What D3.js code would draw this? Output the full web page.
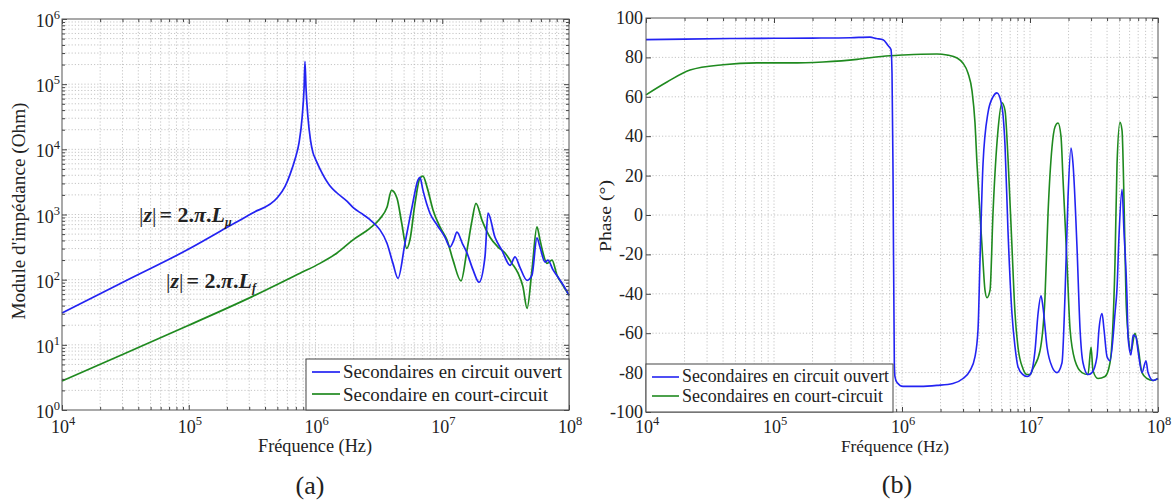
<!DOCTYPE html>
<html><head><meta charset="utf-8">
<script src="https://cdn.jsdelivr.net/npm/d3@7"></script>
<style>
body{margin:0;background:#fff}
svg{display:block}
text{font-family:"Liberation Serif","Times New Roman","DejaVu Serif",serif;fill:#222}
</style>
</head><body>
<svg id="c" width="1176" height="503" font-family="Liberation Serif, serif"></svg>
<script>
// ---------- DATA (frequencies stored as log10(Hz)) ----------
// Panel (a): |Z| in log10(Ohm)
const magOpenLogF = [4.0,4.5,5.0,5.3,5.5,5.7,5.76,5.8,5.84,5.87,5.895,5.91,5.917,5.925,5.94,5.96,5.98,6.0,6.035,6.11,6.17,6.25,6.3,6.375,6.43,6.485,6.51,6.564,6.611,6.651,6.706,6.761,6.809,6.824,6.848,6.903,6.959,7.022,7.061,7.09,7.116,7.16,7.195,7.243,7.29,7.337,7.361,7.416,7.471,7.535,7.574,7.613,7.669,7.708,7.747,7.771,7.811,7.834,7.874,7.913,7.96,8.0];
const magOpenLogZ = [1.49,1.98,2.47,2.80,3.02,3.26,3.43,3.62,3.86,4.10,4.5,4.95,5.35,4.95,4.5,4.15,3.95,3.85,3.70,3.45,3.33,3.20,3.10,3.00,2.92,2.82,2.76,2.56,2.25,2.02,2.56,3.11,3.53,3.57,3.37,3.02,2.84,2.65,2.50,2.60,2.73,2.55,2.41,2.15,1.96,2.35,3.02,2.65,2.45,2.22,2.35,2.19,1.99,2.07,2.64,2.50,2.27,2.30,2.15,2.04,1.90,1.76];
const magShortLogF = [4.0,4.5,5.0,5.5,5.878,6.035,6.17,6.296,6.43,6.51,6.564,6.60,6.643,6.68,6.72,6.745,6.785,6.824,6.848,6.88,6.927,6.982,7.037,7.085,7.148,7.195,7.235,7.266,7.314,7.377,7.44,7.495,7.55,7.598,7.637,7.669,7.708,7.747,7.771,7.795,7.826,7.866,7.905,7.95,8.0];
const magShortLogZ = [0.445,0.87,1.30,1.74,2.10,2.25,2.41,2.61,2.79,2.94,3.11,3.37,3.25,2.87,2.48,2.61,3.17,3.56,3.59,3.42,3.07,2.81,2.61,2.30,1.98,2.45,2.91,3.17,2.91,2.65,2.50,2.41,2.25,2.10,1.89,1.56,2.15,2.81,2.61,2.41,2.25,2.30,2.07,1.92,1.76];

// Panel (b): phase in degrees
const phOpenLogF = [4.0,4.3,4.7,5.0,5.3,5.6,5.75,5.8,5.852,5.891,5.914,5.922,5.93,5.94,5.945,5.961,6.008,6.141,6.273,6.398,6.477,6.531,6.57,6.594,6.609,6.633,6.672,6.711,6.742,6.781,6.805,6.828,6.859,6.883,6.906,6.945,6.98,7.01,7.039,7.063,7.086,7.102,7.133,7.172,7.211,7.25,7.273,7.297,7.32,7.336,7.367,7.391,7.414,7.453,7.484,7.523,7.539,7.563,7.578,7.602,7.625,7.664,7.68,7.695,7.719,7.734,7.758,7.766,7.789,7.805,7.828,7.844,7.875,7.906,7.922,7.961,8.0];
const phOpenDeg = [89.0,89.3,89.6,89.7,89.8,90.0,90.3,89.6,89.0,86,84,72,20,-75,-82,-85,-87,-87,-86.5,-85.5,-83,-79,-72,-58,-24,26,52,60,62,55,35,-8,-50,-67,-77,-81,-82,-80,-69,-50,-41,-47,-67,-77,-80,-75,-42,9,34,26,-16,-58,-75,-81,-80,-72,-58,-50,-58,-72,-74,-50,-37,-11,13,-8,-42,-62,-71,-61,-62,-69,-80,-74,-80,-84,-83];
const phShortLogF = [4.0,4.164,4.344,4.602,4.867,5.125,5.383,5.648,5.75,5.906,6.008,6.15,6.273,6.352,6.43,6.477,6.516,6.547,6.57,6.586,6.609,6.633,6.648,6.664,6.688,6.711,6.75,6.781,6.805,6.828,6.859,6.883,6.906,6.945,6.977,7.0,7.023,7.078,7.117,7.141,7.172,7.195,7.219,7.242,7.258,7.289,7.313,7.352,7.406,7.453,7.477,7.492,7.531,7.586,7.625,7.664,7.68,7.703,7.719,7.734,7.75,7.766,7.789,7.82,7.844,7.875,7.914,7.961,8.0];
const phShortDeg = [61,67.5,73.6,76.3,77.2,77.2,77.7,79,79.8,80.8,81.2,81.6,81.7,81.2,79.7,77,72,63,47,26,1,-24,-38,-42,-38,1,43,57,53,29,-16,-50,-67,-78,-81,-81,-78,-69,-42,1,34.5,44.7,46.7,40,18,-24,-58,-74,-80,-81,-67,-79,-83,-82,-75,-24,26,47,43,9,-42,-60,-69,-60,-67,-80,-83,-84,-83];

const phaseTicks = [-100,-80,-60,-40,-20,0,20,40,60,80,100];
const legendA = ["Secondaires en circuit ouvert","Secondaire en court-circuit"];
const legendB = ["Secondaires en circuit ouvert","Secondaires en court-circuit"];
const BLUE = "#2323f2", GREEN = "#1f8a1f";

// ---------- DRAW ----------
const svg = d3.select("#c");
const zip = (a,b) => a.map((v,i)=>[v,b[i]]);

function grid(g, x, y, box, yt){
  const xt = x.ticks();
  g.append("g").selectAll("line").data(xt.filter(v=>v>x.domain()[0] && v<x.domain()[1])).join("line")
    .attr("x1",d=>x(d)).attr("x2",d=>x(d)).attr("y1",box.y0).attr("y2",box.y1)
    .attr("stroke","#b8b8b8").attr("stroke-width",0.8).attr("stroke-dasharray","1.2,2");
  g.append("g").selectAll("line").data(yt.filter(v=>v>y.domain()[0] && v<y.domain()[1])).join("line")
    .attr("y1",d=>y(d)).attr("y2",d=>y(d)).attr("x1",box.x0).attr("x2",box.x1)
    .attr("stroke","#b8b8b8").attr("stroke-width",0.8).attr("stroke-dasharray","1.2,2");
}

function ticksFrame(g, x, y, box, yMajor, yMinor){
  const xMajor = x.ticks().filter(v=>Math.abs(Math.log10(v)-Math.round(Math.log10(v)))<1e-9);
  const xMinor = x.ticks().filter(v=>!xMajor.includes(v));
  const mk = (axis, tr) => g.append("g").attr("transform",tr).call(axis)
      .call(s=>s.select(".domain").remove()).call(s=>s.selectAll("line").attr("stroke","#444"));
  mk(d3.axisBottom(x).tickValues(xMajor).tickSize(-5).tickFormat(""), `translate(0,${box.y1})`);
  mk(d3.axisBottom(x).tickValues(xMinor).tickSize(-3).tickFormat(""), `translate(0,${box.y1})`);
  mk(d3.axisTop(x).tickValues(xMajor).tickSize(-5).tickFormat(""), `translate(0,${box.y0})`);
  mk(d3.axisTop(x).tickValues(xMinor).tickSize(-3).tickFormat(""), `translate(0,${box.y0})`);
  mk(d3.axisLeft(y).tickValues(yMajor).tickSize(-5).tickFormat(""), `translate(${box.x0},0)`);
  mk(d3.axisRight(y).tickValues(yMajor).tickSize(-5).tickFormat(""), `translate(${box.x1},0)`);
  if (yMinor.length){
    mk(d3.axisLeft(y).tickValues(yMinor).tickSize(-3).tickFormat(""), `translate(${box.x0},0)`);
    mk(d3.axisRight(y).tickValues(yMinor).tickSize(-3).tickFormat(""), `translate(${box.x1},0)`);
  }
  g.append("rect").attr("x",box.x0).attr("y",box.y0).attr("width",box.x1-box.x0).attr("height",box.y1-box.y0)
    .attr("fill","none").attr("stroke","#555").attr("stroke-width",1);
  return xMajor;
}

function powLabel(g, x, y, exp, anchor, size, esize){
  const t = g.append("text").attr("x",x).attr("y",y).attr("text-anchor",anchor);
  t.append("tspan").attr("font-size",size).text("10");
  t.append("tspan").attr("font-size",esize).attr("dy",-8).text(exp);
  return t;
}
function fitText(g, x, y, str, size, len, anchor){
  return g.append("text").attr("x",x).attr("y",y).attr("font-size",size)
    .attr("text-anchor",anchor||"start").attr("textLength",len).attr("lengthAdjust","spacingAndGlyphs").text(str);
}

// ===== Panel (a) =====
const A = {x0:62, x1:569, y0:19, y1:410};
const xa = d3.scaleLog().domain([1e4,1e8]).range([A.x0,A.x1]);
const ya = d3.scaleLog().domain([1,1e6]).range([A.y1,A.y0]);
const ga = svg.append("g");
grid(ga, xa, ya, A, ya.ticks());
const yaMajor = ya.ticks().filter(v=>Math.abs(Math.log10(v)-Math.round(Math.log10(v)))<1e-9);
const yaMinor = ya.ticks().filter(v=>!yaMajor.includes(v));

const lineA = d3.line().x(d=>xa(10**d[0])).y(d=>ya(10**d[1])).curve(d3.curveMonotoneX);
ga.append("path").attr("d",lineA(zip(magShortLogF,magShortLogZ))).attr("fill","none").attr("stroke",GREEN).attr("stroke-width",1.7);
ga.append("path").attr("d",lineA(zip(magOpenLogF,magOpenLogZ))).attr("fill","none").attr("stroke",BLUE).attr("stroke-width",1.7);

const xaMajor = ticksFrame(ga, xa, ya, A, yaMajor, yaMinor);
xaMajor.forEach(v=>powLabel(ga, xa(v)+1, 433, Math.round(Math.log10(v)), "middle", 18, 12.5));
yaMajor.forEach(v=>powLabel(ga, A.x0-2, ya(v)+8, Math.round(Math.log10(v)), "end", 18, 12.5));

// legend (a)
ga.append("rect").attr("x",306).attr("y",359).attr("width",263).attr("height",51).attr("fill","#fff").attr("stroke","#444").attr("stroke-width",1);
[[BLUE,372,378,219],[GREEN,394,401,205]].forEach((s,i)=>{
  ga.append("line").attr("x1",312).attr("x2",340).attr("y1",s[1]).attr("y2",s[1]).attr("stroke",s[0]).attr("stroke-width",1.7);
  fitText(ga, 343, s[2], legendA[i], 18.5, s[3]);
});

// axis titles (a)
fitText(ga, 315, 452, "Fréquence (Hz)", 18, 114, "middle");
ga.append("text").attr("transform","translate(25,211) rotate(-90)").attr("text-anchor","middle").attr("font-size",18.5)
  .attr("textLength",217).attr("lengthAdjust","spacingAndGlyphs").text("Module d'impédance (Ohm)");
ga.append("text").attr("x",310).attr("y",494).attr("text-anchor","middle").attr("font-size",26).text("(a)");

// annotations
function zLabel(x, y, sub){
  const t = ga.append("text").attr("x",x).attr("y",y).attr("font-size",22).attr("fill","#333");
  t.append("tspan").attr("font-style","normal").attr("font-weight","normal").text("|");
  t.append("tspan").attr("font-style","italic").attr("font-weight","bold").text("z");
  t.append("tspan").attr("font-style","normal").attr("font-weight","normal").text("|");
  t.append("tspan").attr("font-weight","bold").attr("dx",3).text("= 2.");
  t.append("tspan").attr("font-style","italic").attr("font-weight","bold").text("π");
  t.append("tspan").attr("font-weight","bold").text(".");
  t.append("tspan").attr("font-style","italic").attr("font-weight","bold").text("L");
  t.append("tspan").attr("font-style","italic").attr("font-weight","bold").attr("font-size",12).attr("dy",4).text(sub);
}
zLabel(139, 222, "μ");
zLabel(166, 288, "f");

// ===== Panel (b) =====
const B = {x0:646, x1:1158, y0:18, y1:412};
const xb = d3.scaleLog().domain([1e4,1e8]).range([B.x0,B.x1]);
const yb = d3.scaleLinear().domain([-100,100]).range([B.y1,B.y0]);
const gb = svg.append("g");
grid(gb, xb, yb, B, phaseTicks);
const lineB = d3.line().x(d=>xb(10**d[0])).y(d=>yb(d[1])).curve(d3.curveMonotoneX);
gb.append("path").attr("d",lineB(zip(phShortLogF,phShortDeg))).attr("fill","none").attr("stroke",GREEN).attr("stroke-width",1.6);
gb.append("path").attr("d",lineB(zip(phOpenLogF,phOpenDeg))).attr("fill","none").attr("stroke",BLUE).attr("stroke-width",1.6);
const xbMajor = ticksFrame(gb, xb, yb, B, phaseTicks, []);
xbMajor.forEach(v=>powLabel(gb, xb(v)+1, 433, Math.round(Math.log10(v)), "middle", 18, 12.5));
phaseTicks.forEach(v=>gb.append("text").attr("x",B.x0-3).attr("y",yb(v)+6).attr("text-anchor","end").attr("font-size",18).text(v));

// legend (b)
gb.append("rect").attr("x",646).attr("y",364).attr("width",247).attr("height",48).attr("fill","#fff").attr("stroke","#444").attr("stroke-width",1);
[[BLUE,377,382,207],[GREEN,396,402,201]].forEach((s,i)=>{
  gb.append("line").attr("x1",652).attr("x2",679).attr("y1",s[1]).attr("y2",s[1]).attr("stroke",s[0]).attr("stroke-width",1.6);
  fitText(gb, 682, s[2], legendB[i], 17.8, s[3]);
});

fitText(gb, 895, 452, "Fréquence (Hz)", 17, 108, "middle");
gb.append("text").attr("transform","translate(611,216) rotate(-90)").attr("text-anchor","middle").attr("font-size",17)
  .attr("textLength",72).attr("lengthAdjust","spacingAndGlyphs").text("Phase (°)");
gb.append("text").attr("x",897).attr("y",493).attr("text-anchor","middle").attr("font-size",26).text("(b)");
</script>
</body></html>
